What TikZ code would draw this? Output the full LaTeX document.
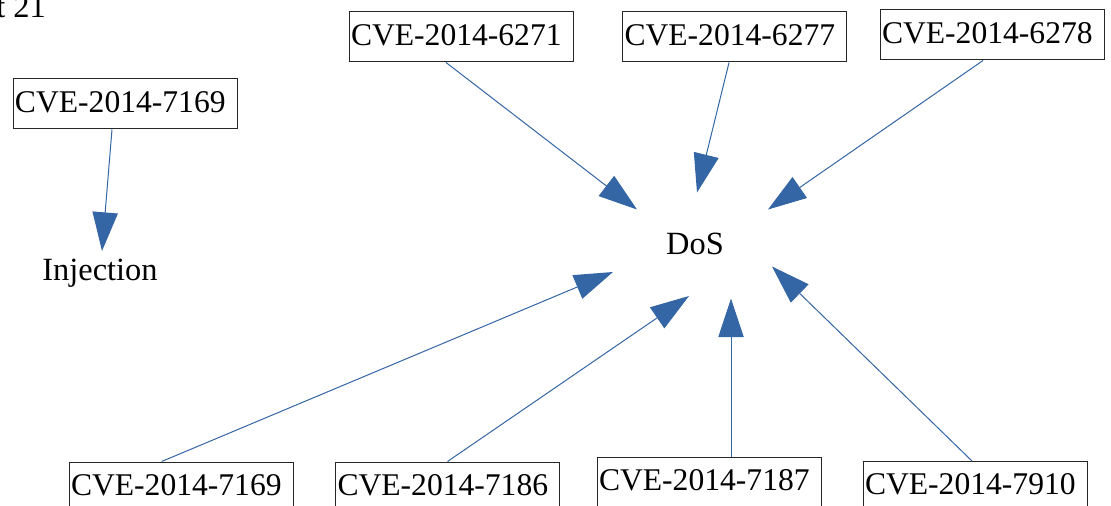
\documentclass[tikz,border=0pt]{standalone}
\usepackage{fontspec}
\setmainfont{Liberation Serif}
\usetikzlibrary{arrows.meta}
\definecolor{linkblue}{HTML}{3465A4}

\begin{document}
\begin{tikzpicture}[
    x=0.75pt, y=-0.75pt,
    every node/.style={font=\fontsize{24.3}{29}\selectfont},
    cvebox/.style={draw=black!85, line width=0.75pt, text width=165pt,
      align=left, inner xsep=1.5pt, inner ysep=0pt,
      minimum height=37.5pt, text depth=0.35em,
      font=\fontsize{23.7}{28}\selectfont},
    plain/.style={inner sep=0pt},
    link/.style={draw=linkblue, line width=0.75pt,
      -{Triangle[length=29pt,width=19pt,fill=linkblue]}}
  ]
    \useasboundingbox (0,0) rectangle (1111,506);
    \clip (0,0) rectangle (1111,506);

    \node[plain, anchor=base west] (part) at (-4,18) {t 21};

    \node[cvebox] (cveA) at (125,104) {CVE-2014-7169};
    \node[plain, anchor=base] (inj) at (100,281) {Injection};

    \node[plain, anchor=base] (dos) at (695,254) {DoS};
    \node[cvebox] (cve6271) at (461,37) {CVE-2014-6271};
    \node[cvebox] (cve6277) at (734.5,37) {CVE-2014-6277};
    \node[cvebox] (cve6278) at (992,35) {CVE-2014-6278};
    \node[cvebox] (cve7169) at (181,487) {CVE-2014-7169};
    \node[cvebox] (cve7186) at (447.5,487) {CVE-2014-7186};
    \node[cvebox] (cve7187) at (709,482) {CVE-2014-7187};
    \node[cvebox] (cve7910) at (975,486.5) {CVE-2014-7910};

    % arrow tips around DoS
    \coordinate (tInj) at (102,251);
    \coordinate (t6271) at (637,209.5);
    \coordinate (t6277) at (697,192.5);
    \coordinate (t6278) at (768,209.5);
    \coordinate (t7169) at (613,272);
    \coordinate (t7186) at (689,296);
    \coordinate (t7187) at (731,298.5);
    \coordinate (t7910) at (772,266.5);

    \draw[link] ([xshift=-9.75pt]cveA.south) -- (tInj);
    \draw[link] ([xshift=-11.25pt]cve6271.south) -- (t6271);
    \draw[link] ([xshift=-4.1pt]cve6277.south) -- (t6277);
    \draw[link] ([xshift=-6.75pt]cve6278.south) -- (t6278);
    \draw[link] ([xshift=-14.5pt]cve7169.north) -- (t7169);
    \draw[link] (cve7186.north) -- (t7186);
    \draw[link] ([xshift=16.5pt]cve7187.north) -- (t7187);
    \draw[link] ([xshift=-2.25pt]cve7910.north) -- (t7910);
  \end{tikzpicture}
\end{document}
